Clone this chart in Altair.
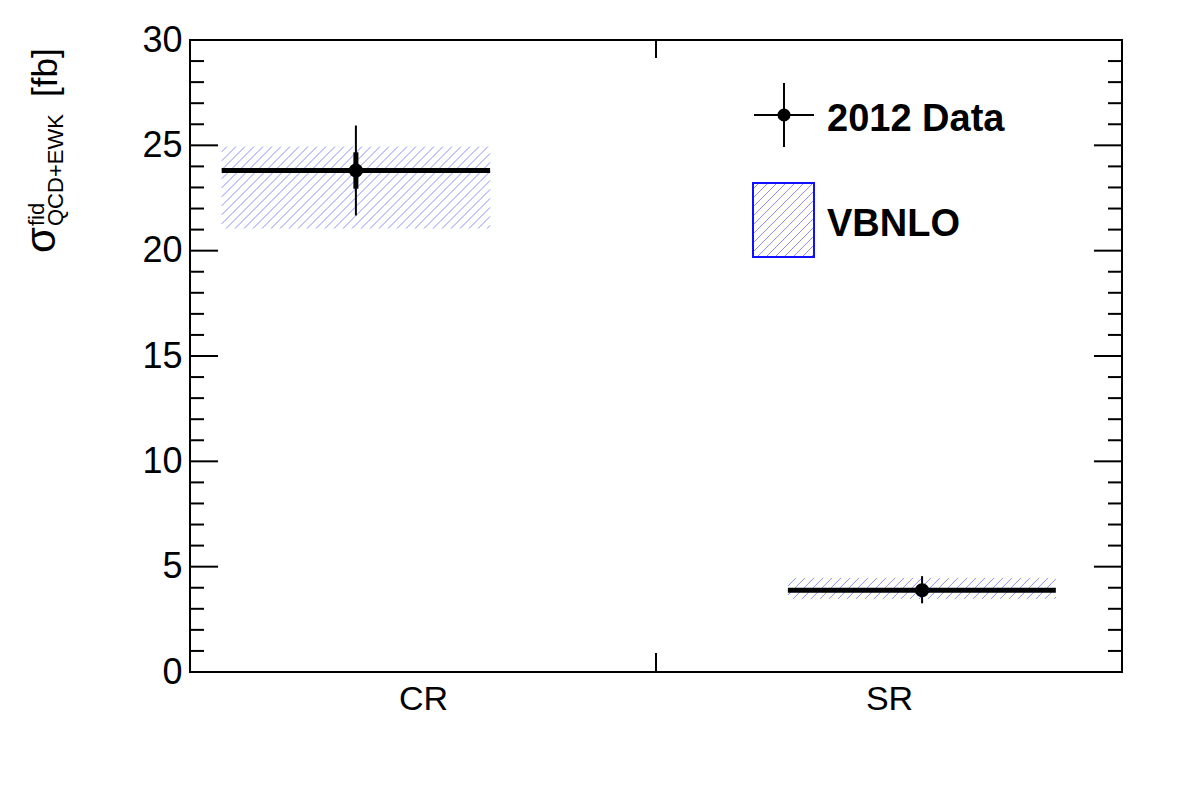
import math
import altair as alt
import pandas as pd

# ---------------- data ----------------
regions = ["CR", "SR"]
region_pos = [0.5, 1.5]            # category centres on the x axis (bins 0-1, 1-2)
bin_edges = [0.0, 1.0, 2.0]
point_x = [0.356, 1.571]           # x of the data points
band_lo_x = [0.068, 1.283]         # x extent of the VBNLO band / central line
band_hi_x = [0.644, 1.858]
central = [23.80, 3.88]            # measured / central value
vbnlo_lo = [21.05, 3.47]
vbnlo_hi = [24.94, 4.47]
err_tot_lo = [21.67, 3.26]
err_tot_hi = [25.94, 4.55]
err_stat_lo = [22.94, 3.62]
err_stat_hi = [24.67, 4.14]

y_major = [0, 5, 10, 15, 20, 25, 30]
y_minor = [v for v in range(0, 31) if v % 5 != 0]

# ---------------- layout ----------------
W, H = 932, 632
XMAX, YMAX = 2.0, 30.0
FONT = "Liberation Sans"
HATCH = "#7a7af0"
SP = 9.0  # hatch spacing in px

def hatch_px(x0, x1, y0, y1, spacing):
    """45-degree '/' hatch segments inside a pixel rectangle (y up)."""
    segs = []
    h = y1 - y0
    c = math.floor((x0 - h) / spacing) * spacing
    while c < x1:
        xa, ya, xb, yb = c, y0, c + h, y1
        if xa < x0:
            ya += x0 - xa
            xa = x0
        if xb > x1:
            yb -= xb - x1
            xb = x1
        if xb > xa:
            segs.append((xa, ya, xb, yb))
        c += spacing
    return segs

sx, sy = W / XMAX, H / YMAX
rows = []
for i in range(len(regions)):
    for xa, ya, xb, yb in hatch_px(band_lo_x[i] * sx, band_hi_x[i] * sx,
                                   vbnlo_lo[i] * sy, vbnlo_hi[i] * sy, SP):
        rows.append({"x": xa / sx, "y": ya / sy, "x2": xb / sx, "y2": yb / sy})
hatch_df = pd.DataFrame(rows)

df = pd.DataFrame({
    "region": regions, "px": point_x, "lo_x": band_lo_x, "hi_x": band_hi_x,
    "c": central, "tlo": err_tot_lo, "thi": err_tot_hi,
    "slo": err_stat_lo, "shi": err_stat_hi,
})

xscale = alt.Scale(domain=[0, XMAX], nice=False, zero=False)
yscale = alt.Scale(domain=[0, YMAX], nice=False, zero=False)
xaxis = alt.Axis(values=region_pos, labelExpr="datum.value < 1 ? 'CR' : 'SR'",
                 ticks=False, domain=False, grid=False, labelFontSize=34,
                 labelPadding=10, title=None, labelAngle=0)
yaxis = alt.Axis(values=y_major, ticks=False, domain=False, grid=False,
                 labelFontSize=36, labelPadding=8, title=None)

def X(f):
    return alt.X(f, type="quantitative", scale=xscale, axis=xaxis)

def Y(f):
    return alt.Y(f, type="quantitative", scale=yscale, axis=yaxis)

hatch = alt.Chart(hatch_df).mark_rule(color=HATCH, strokeWidth=1, opacity=0.85).encode(
    x=X("x"), x2="x2", y=Y("y"), y2="y2")

cline = alt.Chart(df).mark_rule(color="black", strokeWidth=5).encode(
    x=X("lo_x"), x2="hi_x", y=Y("c"))

tot = alt.Chart(df).mark_rule(color="black", strokeWidth=2).encode(
    x=X("px"), y=Y("tlo"), y2="thi")

stat = alt.Chart(df).mark_rule(color="black", strokeWidth=5).encode(
    x=X("px"), y=Y("slo"), y2="shi")

pts = alt.Chart(df).mark_point(filled=True, shape="circle", size=200,
                               color="black", opacity=1).encode(
    x=X("px"), y=Y("c"))

# ---------------- ROOT-style inward ticks ----------------
maj = pd.DataFrame({"v": y_major})
mnr = pd.DataFrame({"v": y_minor})
xt = pd.DataFrame({"v": bin_edges})
tick_style = dict(color="black", strokeWidth=2)
ticks = [
    alt.Chart(maj).mark_rule(**tick_style).encode(y=Y("v"), x=alt.value(0), x2=alt.value(28)),
    alt.Chart(maj).mark_rule(**tick_style).encode(y=Y("v"), x=alt.value(W), x2=alt.value(W - 28)),
    alt.Chart(mnr).mark_rule(**tick_style).encode(y=Y("v"), x=alt.value(0), x2=alt.value(14)),
    alt.Chart(mnr).mark_rule(**tick_style).encode(y=Y("v"), x=alt.value(W), x2=alt.value(W - 14)),
    alt.Chart(xt).mark_rule(**tick_style).encode(x=X("v"), y=alt.value(H), y2=alt.value(H - 19)),
    alt.Chart(xt).mark_rule(**tick_style).encode(x=X("v"), y=alt.value(0), y2=alt.value(18)),
]

# ---------------- legend (drawn) ----------------
LX0, LX1, LY0, LY1 = 563, 624, 143, 217
lrows = []
for xa, ya, xb, yb in hatch_px(LX0, LX1, -LY1, -LY0, SP):
    lrows.append({"x": xa, "y": -ya, "x2": xb, "y2": -yb})
leg_hatch = alt.Chart(pd.DataFrame(lrows)).mark_rule(
    color=HATCH, strokeWidth=1, opacity=0.85).encode(
    x=alt.X("x:Q", scale=None), x2="x2:Q", y=alt.Y("y:Q", scale=None), y2="y2:Q")
leg_box = alt.Chart(pd.DataFrame({"a": [0]})).mark_rect(
    fill="white", fillOpacity=0, stroke="#1010ff", strokeWidth=2).encode(
    x=alt.value(LX0), x2=alt.value(LX1), y=alt.value(LY0), y2=alt.value(LY1))
leg_h = alt.Chart(pd.DataFrame({"a": [0]})).mark_rule(color="black", strokeWidth=2).encode(
    x=alt.value(564), x2=alt.value(624), y=alt.value(75))
leg_v = alt.Chart(pd.DataFrame({"a": [0]})).mark_rule(color="black", strokeWidth=2).encode(
    x=alt.value(594), y=alt.value(43), y2=alt.value(107))
leg_pt = alt.Chart(pd.DataFrame({"a": [0]})).mark_point(
    filled=True, shape="circle", size=170, color="black", opacity=1).encode(
    x=alt.value(594), y=alt.value(75))
leg_t1 = alt.Chart(pd.DataFrame({"a": [0]})).mark_text(
    text="2012 Data", font=FONT, fontSize=38, fontWeight="bold", align="left",
    baseline="alphabetic", color="black").encode(x=alt.value(637), y=alt.value(91))
leg_t2 = alt.Chart(pd.DataFrame({"a": [0]})).mark_text(
    text="VBNLO", font=FONT, fontSize=38, fontWeight="bold", align="left",
    baseline="alphabetic", color="black").encode(x=alt.value(637), y=alt.value(196))

# ---------------- y title: sigma^fid_{QCD+EWK} [fb] ----------------
def ttext(s, size, bx, by):
    return alt.Chart(pd.DataFrame({"a": [0]})).mark_text(
        text=s, font=FONT, fontSize=size, angle=270, align="left",
        baseline="alphabetic", color="black").encode(x=alt.value(bx), y=alt.value(by))

titles = [
    ttext("σ", 42, -135, 213),
    ttext("fid", 22, -146, 186),
    ttext("QCD+EWK", 22, -127, 186),
    ttext("[fb]", 35, -133, 57),
]

chart = alt.layer(
    hatch, cline, tot, stat, pts, *ticks,
    leg_hatch, leg_box, leg_h, leg_v, leg_pt, leg_t1, leg_t2, *titles,
).properties(
    width=W, height=H,
    padding={"left": 190, "top": 40, "right": 60, "bottom": 128},
    autosize=alt.AutoSizeParams(type="none"),
    background="white",
).configure_view(
    stroke="black", strokeWidth=2,
).configure_axis(
    labelFont=FONT, labelColor="black",
)

chart.save("out.html", embed_options={"renderer": "svg", "actions": False})
